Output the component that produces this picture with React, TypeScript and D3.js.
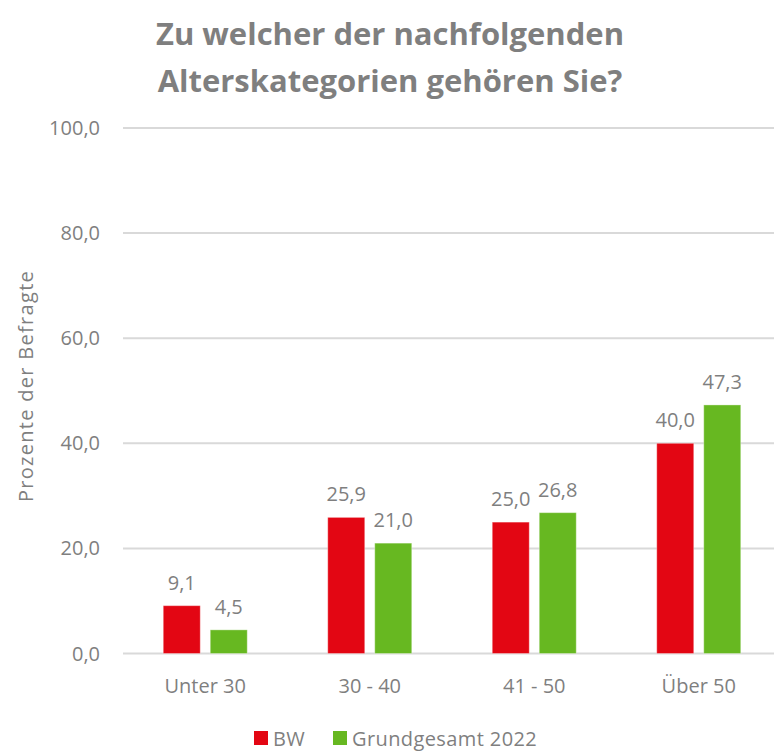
import React from "react";
import * as d3 from "d3";

const categories = ["Unter 30", "30 - 40", "41 - 50", "Über 50"];
const seriesNames = ["BW", "Grundgesamt 2022"];
const bwValues = [9.1, 25.9, 25.0, 40.0];
const grundValues = [4.5, 21.0, 26.8, 47.3];
const yTicks = [0, 20, 40, 60, 80, 100];
const titleLines = ["Zu welcher der nachfolgenden", "Alterskategorien gehören Sie?"];
const yAxisLabel = "Prozente der Befragte";

const colors = ["#E30613", "#67B821"];
const textColor = "#7f7f7f";
const font = "'Open Sans', 'Noto Sans', sans-serif";

export default function App() {
  const W = 774;
  const H = 751;
  const plotLeft = 123;
  const plotRight = 781;
  const y0 = 653.5;
  const y100 = 128;

  const x = d3.scaleBand<string>().domain(categories).range([plotLeft, plotRight]).padding(0);
  const y = d3.scaleLinear().domain([0, 100]).range([y0, y100]);
  const barW = 37;
  const gap = 10;
  const fmt = (v: number) => v.toFixed(1).replace(".", ",");
  const series = [bwValues, grundValues];

  return (
    <svg width={W} height={H} style={{ position: "absolute", left: 0, top: 0, background: "#fff" }} fontFamily={font}>
      {titleLines.map((t, i) => (
        <text key={i} x={390} y={45 + i * 47} textAnchor="middle" fontSize={31} fontWeight="bold" fill={textColor}>
          {t}
        </text>
      ))}
      {yTicks.map((t) => (
        <g key={t}>
          <line x1={plotLeft} x2={plotRight} y1={y(t)} y2={y(t)} stroke="#d9d9d9" strokeWidth={2} />
          <text x={100} y={y(t) + 7} textAnchor="end" fontSize={20} fill={textColor}>
            {fmt(t)}
          </text>
        </g>
      ))}
      <text
        transform={`translate(33, 386) rotate(-90)`}
        textAnchor="middle"
        fontSize={20}
        letterSpacing={1.3}
        fill={textColor}
      >
        {yAxisLabel}
      </text>
      {categories.map((c, i) => {
        const cx = (x(c) as number) + x.bandwidth() / 2;
        return (
          <g key={c}>
            {series.map((vals, s) => {
              const bx = cx - gap / 2 - barW + s * (barW + gap);
              const v = vals[i];
              return (
                <g key={s}>
                  <rect x={bx} y={y(v)} width={barW} height={y0 - y(v)} fill={colors[s]} stroke="rgba(255,255,255,0.35)" strokeWidth={1} />
                  <text x={bx + barW / 2} y={y(v) - 16} textAnchor="middle" fontSize={20} fill={textColor}>
                    {fmt(v)}
                  </text>
                </g>
              );
            })}
            <text x={cx} y={693} textAnchor="middle" fontSize={20} fill={textColor}>
              {c}
            </text>
          </g>
        );
      })}
      <g>
        <rect x={254} y={731} width={14} height={14} fill={colors[0]} />
        <text x={273} y={746} fontSize={20} letterSpacing={0.4} fill={textColor}>{seriesNames[0]}</text>
        <rect x={333} y={731} width={14} height={14} fill={colors[1]} />
        <text x={352} y={746} fontSize={20} letterSpacing={0.4} fill={textColor}>{seriesNames[1]}</text>
      </g>
    </svg>
  );
}
